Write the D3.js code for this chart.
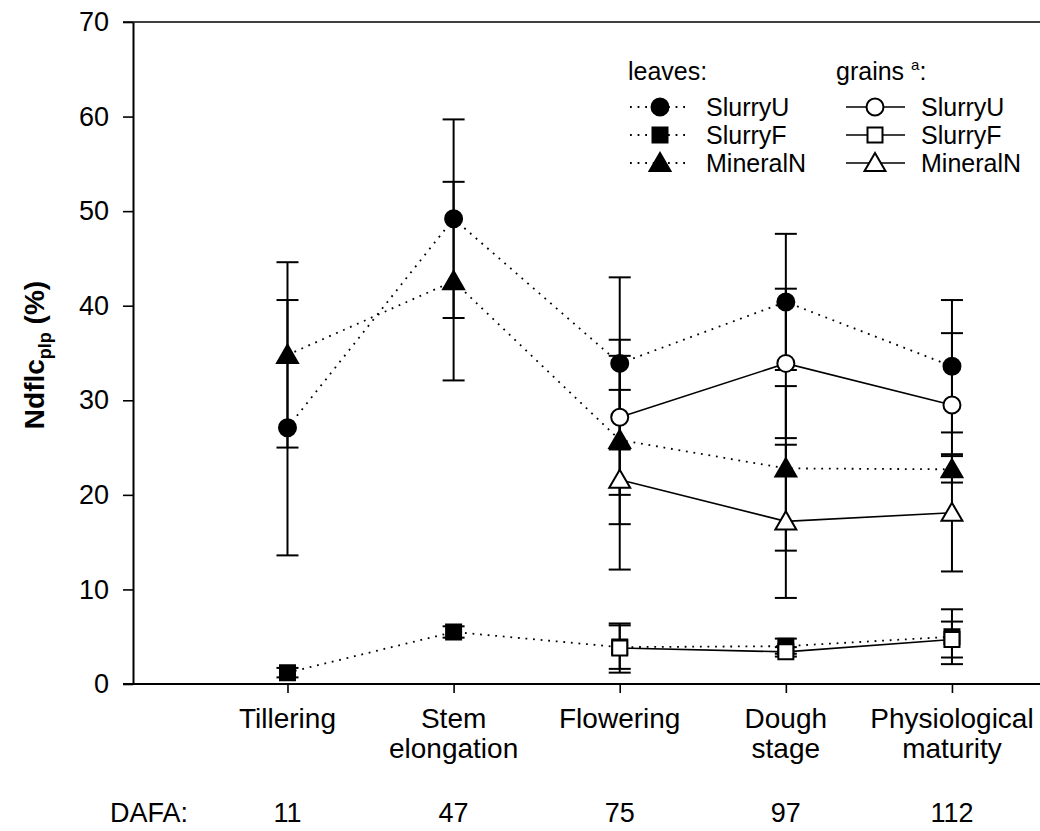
<!DOCTYPE html>
<html>
<head>
<meta charset="utf-8">
<script src="https://cdn.jsdelivr.net/npm/d3@7/dist/d3.min.js"></script>
<style>
html,body{margin:0;padding:0;background:#fff;}
svg{display:block;font-family:"Liberation Sans",Arial,sans-serif;}
</style>
</head>
<body>
<svg id="chart" width="1040" height="831"></svg>
<script>
// ---------------- data ----------------
const stages = [["Tillering"], ["Stem", "elongation"], ["Flowering"], ["Dough", "stage"], ["Physiological", "maturity"]];
const dafa = [11, 47, 75, 97, 112];
const yTicks = [0, 10, 20, 30, 40, 50, 60, 70];

const leavesSlurryU = [27.1, 49.2, 33.9, 40.4, 33.6];
const leavesSlurryUErr = [13.5, 10.5, 9.1, 7.2, 7.0];
const leavesSlurryF = [1.2, 5.5, 3.9, 4.0, 5.0];
const leavesSlurryFErr = [0.5, 0.6, 2.3, 0.8, 2.9];
const leavesMineralN = [34.8, 42.6, 25.8, 22.8, 22.7];
const leavesMineralNErr = [9.8, 10.5, 8.9, 8.7, 1.4];

const grainsSlurryU = [null, null, 28.2, 33.9, 29.5];
const grainsSlurryUErr = [null, null, 8.2, 7.9, 7.6];
const grainsSlurryF = [null, null, 3.8, 3.4, 4.7];
const grainsSlurryFErr = [null, null, 2.6, 0.5, 1.9];
const grainsMineralN = [null, null, 21.6, 17.2, 18.1];
const grainsMineralNErr = [null, null, 9.5, 8.1, 6.2];

const seriesNames = ["SlurryU", "SlurryF", "MineralN"];

// --------------- layout ---------------
const svg = d3.select("#chart");
const x = d3.scaleLinear().domain([-0.93, 4.53]).range([133, 1040]);
const y = d3.scaleLinear().domain([0, 70]).range([684, 22]);

const series = [
  {group: "leaves", name: "SlurryF", vals: leavesSlurryF, err: leavesSlurryFErr, shape: "square", filled: true},
  {group: "grains", name: "SlurryF", vals: grainsSlurryF, err: grainsSlurryFErr, shape: "square", filled: false},
  {group: "leaves", name: "SlurryU", vals: leavesSlurryU, err: leavesSlurryUErr, shape: "circle", filled: true},
  {group: "leaves", name: "MineralN", vals: leavesMineralN, err: leavesMineralNErr, shape: "triangle", filled: true},
  {group: "grains", name: "SlurryU", vals: grainsSlurryU, err: grainsSlurryUErr, shape: "circle", filled: false},
  {group: "grains", name: "MineralN", vals: grainsMineralN, err: grainsMineralNErr, shape: "triangle", filled: false}
];

const symbolOf = {
  circle: d3.symbol().type(d3.symbolCircle).size(Math.PI * 8.5 * 8.5),
  square: d3.symbol().type(d3.symbolSquare).size(15 * 15),
  triangle: d3.symbol().type(d3.symbolTriangle).size(190)
};

// axes
const yAxis = d3.axisLeft(y).tickValues(yTicks).tickSize(10).tickSizeOuter(0).tickPadding(14);
const gy = svg.append("g").attr("transform", "translate(133,0)").call(yAxis);
gy.select(".domain").attr("stroke", "#000").attr("stroke-width", 2);
gy.selectAll(".tick line").attr("stroke", "#000").attr("stroke-width", 1.6);
gy.selectAll(".tick text").attr("font-size", 27).attr("font-family", "Liberation Sans, Arial, sans-serif").attr("fill", "#000");

// top line
svg.append("line").attr("x1", 123).attr("x2", 1040).attr("y1", y(70)).attr("y2", y(70))
  .attr("stroke", "#000").attr("stroke-width", 1.6);

const xAxis = d3.axisBottom(x).tickValues(d3.range(stages.length)).tickFormat("").tickSize(9).tickSizeOuter(0);
const gx = svg.append("g").attr("transform", `translate(0,${y(0)})`).call(xAxis);
gx.select(".domain").remove();
gx.selectAll(".tick line").attr("stroke", "#000").attr("stroke-width", 1.6);
svg.append("line").attr("x1", 123).attr("x2", 1040).attr("y1", y(0)).attr("y2", y(0))
  .attr("stroke", "#000").attr("stroke-width", 2);

// category labels
stages.forEach((lines, i) => {
  const t = svg.append("text").attr("x", x(i)).attr("y", 728).attr("text-anchor", "middle")
    .attr("font-size", 28).attr("fill", "#000");
  lines.forEach((ln, j) => {
    t.append("tspan").attr("x", x(i)).attr("dy", j === 0 ? 0 : 30).text(ln);
  });
});

// DAFA row
svg.append("text").attr("x", 110).attr("y", 822).attr("font-size", 27).attr("fill", "#000").text("DAFA:");
dafa.forEach((d, i) => {
  svg.append("text").attr("x", x(i)).attr("y", 822).attr("text-anchor", "middle")
    .attr("font-size", 27).attr("fill", "#000").text(d);
});

// y label
const yl = svg.append("text").attr("transform", `translate(44,${(y(0) + y(70)) / 2 + 2}) rotate(-90)`)
  .attr("text-anchor", "middle").attr("font-size", 28).attr("font-weight", "bold").attr("fill", "#000");
yl.append("tspan").text("Ndflc");
yl.append("tspan").attr("font-size", 18).attr("dy", 7).text("plp");
yl.append("tspan").attr("dy", -7).text(" (%)");

// lines
const plot = svg.append("g");
series.forEach(s => {
  const pts = s.vals.map((v, i) => ({i, v})).filter(p => p.v !== null);
  const line = d3.line().x(p => x(p.i)).y(p => y(p.v));
  plot.append("path").datum(pts).attr("d", line).attr("fill", "none").attr("stroke", "#000")
    .attr("stroke-width", s.group === "leaves" ? 1.8 : 1.6)
    .attr("stroke-dasharray", s.group === "leaves" ? "1.8 5.8" : null);
});

// error bars
series.forEach(s => {
  s.vals.forEach((v, i) => {
    if (v === null) return;
    const e = s.err[i];
    const g = plot.append("g").attr("stroke", "#000").attr("stroke-width", 2);
    g.append("line").attr("x1", x(i)).attr("x2", x(i)).attr("y1", y(v - e)).attr("y2", y(v + e));
    [v - e, v + e].forEach(yy => {
      g.append("line").attr("x1", x(i) - 11).attr("x2", x(i) + 11).attr("y1", y(yy)).attr("y2", y(yy));
    });
  });
});

// markers
series.forEach(s => {
  s.vals.forEach((v, i) => {
    if (v === null) return;
    plot.append("path").attr("d", symbolOf[s.shape]())
      .attr("transform", `translate(${x(i)},${y(v) + (s.shape === "triangle" ? 2 : 0)})`)
      .attr("fill", s.filled ? "#000" : "#fff").attr("stroke", "#000").attr("stroke-width", 2);
  });
});

// legend
const legRows = [107, 135, 163];
const leg = svg.append("g");
leg.append("text").attr("x", 628).attr("y", 80).attr("font-size", 25).attr("fill", "#000").text("leaves:");
const gh = leg.append("text").attr("x", 836).attr("y", 80).attr("font-size", 25).attr("fill", "#000");
gh.append("tspan").text("grains ");
gh.append("tspan").attr("font-size", 15).attr("dy", -10).text("a");
gh.append("tspan").attr("dy", 10).text(":");

const legendDefs = [
  {group: "leaves", x0: 630, x1: 690, sx: 660, tx: 706},
  {group: "grains", x0: 846, x1: 905, sx: 875, tx: 921}
];
legendDefs.forEach(ld => {
  seriesNames.forEach((nm, r) => {
    const s = series.find(q => q.group === ld.group && q.name === nm);
    const yy = legRows[r];
    leg.append("line").attr("x1", ld.x0).attr("x2", ld.x1).attr("y1", yy).attr("y2", yy)
      .attr("stroke", "#000").attr("stroke-width", ld.group === "leaves" ? 1.8 : 1.6)
      .attr("stroke-dasharray", ld.group === "leaves" ? "1.8 5.8" : null);
    leg.append("path").attr("d", symbolOf[s.shape]())
      .attr("transform", `translate(${ld.sx},${yy + (s.shape === "triangle" ? 2 : 0)})`)
      .attr("fill", s.filled ? "#000" : "#fff").attr("stroke", "#000").attr("stroke-width", 2);
    leg.append("text").attr("x", ld.tx).attr("y", yy + 9).attr("font-size", 25).attr("fill", "#000").text(nm);
  });
});
</script>
</body>
</html>
